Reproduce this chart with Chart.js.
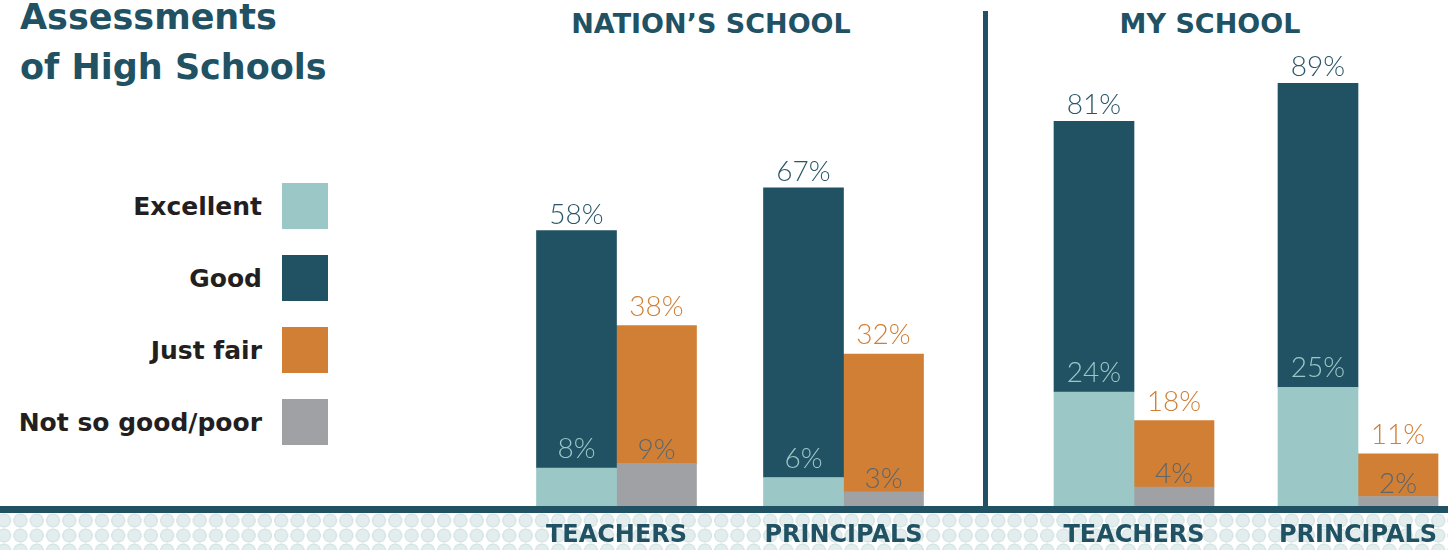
<!DOCTYPE html>
<html>
<head>
<meta charset="utf-8">
<script src="https://cdn.jsdelivr.net/npm/chart.js@4.4.0/dist/chart.umd.min.js"></script>
<style>
  body { margin: 0; width: 1448px; height: 550px; overflow: hidden; position: relative; background: #fff; font-family: 'DejaVu Sans', sans-serif; }
  .abs { position: absolute; }
  #title { left: 20px; top: -8px; font-size: 35px; line-height: 50px; font-weight: bold; color: #215264; white-space: nowrap; }
  .head { top: 10px; font-size: 27px; line-height: 27px; font-weight: bold; color: #215264; white-space: nowrap; transform: translateX(-50%); }
  #dots { left: 0; top: 513px; width: 1448px; height: 37px;
    background-image: radial-gradient(circle, #e3eded 0, #e3eded 5.5px, #d5e4e4 6px, #d5e4e4 6.8px, rgba(255,255,255,0) 7.3px);
    background-size: 16.3px 15px; background-position: -4px 0; }
  #base { left: 0; top: 506px; width: 1448px; height: 7px; background: #215264; }
  #divider { left: 983px; top: 11px; width: 5px; height: 495px; background: #215264; }
  .legLabel { width: 262px; text-align: right; font-size: 25px; line-height: 25px; font-weight: bold; color: #231f20; left: 0; white-space: nowrap; }
  .legBox { left: 282px; width: 46px; height: 46px; }
  canvas { position: absolute; top: 0; }
</style>
</head>
<body>
<div id="dots" class="abs"></div>
<div id="base" class="abs"></div>
<div id="divider" class="abs"></div>
<div id="title" class="abs">Assessments<br>of High Schools</div>
<div class="abs head" style="left:711px">NATION’S SCHOOL</div>
<div class="abs head" style="left:1210px">MY SCHOOL</div>
<div id="legend"></div>
<canvas id="nation" width="454" height="550" style="left:503px"></canvas>
<canvas id="mine" width="448" height="550" style="left:1022px"></canvas>
<script>
var groups = ['TEACHERS', 'PRINCIPALS'];

// Nation's school: labels as printed on the chart
var nationExcellent = [8, 6];
var nationGoodOrBetter = [58, 67];   // top of the dark bar
var nationPoor = [9, 3];
var nationFairOrWorse = [38, 32];    // top of the orange bar

// My school
var myExcellent = [24, 25];
var myGoodOrBetter = [81, 89];
var myPoor = [4, 2];
var myFairOrWorse = [18, 11];

var legendLabels = ['Excellent', 'Good', 'Just fair', 'Not so good/poor'];
var legendColors = ['#9cc7c7', '#215264', '#d07f35', '#a0a1a5'];

// legend (html, left side)
var leg = document.getElementById('legend');
for (var i = 0; i < legendLabels.length; i++) {
  var rowTop = 183 + i * 72;
  var lab = document.createElement('div');
  lab.className = 'abs legLabel';
  lab.style.top = (rowTop + 11) + 'px';
  lab.textContent = legendLabels[i];
  leg.appendChild(lab);
  var box = document.createElement('div');
  box.className = 'abs legBox';
  box.style.top = rowTop + 'px';
  box.style.background = legendColors[i];
  leg.appendChild(box);
}

var labelPlugin = {
  id: 'pctLabels',
  afterDatasetsDraw: function (chart) {
    var ctx = chart.ctx;
    ctx.save();
    ctx.font = '300 28px Lato, "DejaVu Sans", sans-serif';
    ctx.textAlign = 'center';
    ctx.textBaseline = 'alphabetic';
    chart.data.datasets.forEach(function (ds, di) {
      var meta = chart.getDatasetMeta(di);
      meta.data.forEach(function (bar, j) {
        ctx.fillStyle = ds.labelColor;
        ctx.fillText(ds.labelValues[j] + '%', bar.x, bar.y - ds.labelGap);
      });
    });
    ctx.restore();
  }
};

function diff(a, b) {
  return a.map(function (v, i) { return v - b[i]; });
}

function makeChart(id, exc, goodTop, poor, fairTop) {
  return new Chart(document.getElementById(id), {
    type: 'bar',
    data: {
      labels: groups,
      datasets: [
        { label: 'Excellent', data: exc, stack: 'a', backgroundColor: legendColors[0],
          labelValues: exc, labelColor: '#9cc7c7', labelGap: 10 },
        { label: 'Good', data: diff(goodTop, exc), stack: 'a', backgroundColor: legendColors[1],
          labelValues: goodTop, labelColor: '#2a5669', labelGap: 7 },
        { label: 'Not so good/poor', data: poor, stack: 'b', backgroundColor: legendColors[3],
          labelValues: poor, labelColor: '#5d666c', labelGap: 4 },
        { label: 'Just fair', data: diff(fairTop, poor), stack: 'b', backgroundColor: legendColors[2],
          labelValues: fairTop, labelColor: '#d07f35', labelGap: 10 }
      ]
    },
    options: {
      responsive: false,
      animation: false,
      layout: { padding: { top: 31, left: 0, right: 0, bottom: 0 } },
      plugins: { legend: { display: false }, tooltip: { enabled: false } },
      datasets: { bar: { barThickness: 80, borderWidth: 0 } },
      scales: {
        x: {
          stacked: true,
          grid: { display: false, drawTicks: false },
          border: { display: false },
          ticks: { color: '#215264', padding: 15, font: { family: 'DejaVu Sans', weight: 'bold', size: 24 } },
          afterFit: function (s) { s.height = 44; }
        },
        y: { stacked: true, display: false, min: 0, max: 100 }
      }
    },
    plugins: [labelPlugin]
  });
}

makeChart('nation', nationExcellent, nationGoodOrBetter, nationPoor, nationFairOrWorse);
makeChart('mine', myExcellent, myGoodOrBetter, myPoor, myFairOrWorse);
</script>
</body>
</html>
